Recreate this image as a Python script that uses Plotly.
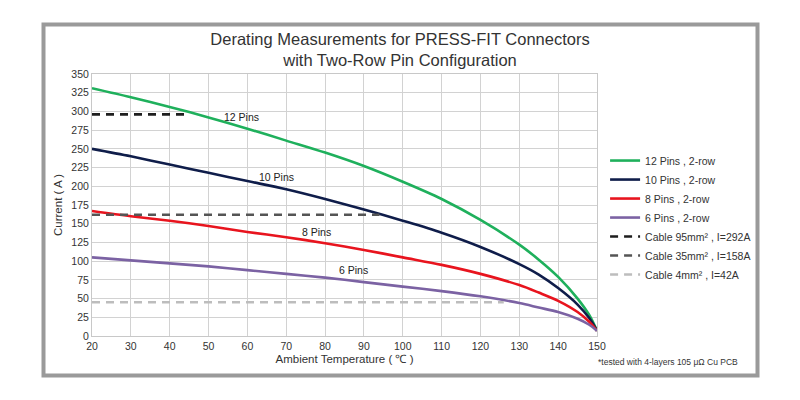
import plotly.graph_objects as go

# ambient temperature (C) and derated current (A)
temps = [20, 30, 40, 50, 60, 70, 80, 90, 100, 110, 120, 130, 135, 140, 145, 148, 150]
pins12 = [331, 319, 306, 292, 277, 261, 245, 227, 206, 183, 155, 122, 102, 79, 50, 28, 7]
pins10 = [250, 240, 229, 218, 207, 196, 183, 169, 154, 138, 119, 96, 82, 64, 42, 24, 7]
pins8 = [167, 160, 154, 147, 139, 132, 124, 115, 105, 95, 83, 68, 58, 47, 32, 19, 7]
pins6 = [105, 101, 97, 93, 88, 83, 78, 72, 66, 60, 53, 44, 38, 32, 23, 15, 7]

curve_names = ["12 Pins , 2-row", "10 Pins , 2-row", "8 Pins , 2-row", "6 Pins , 2-row"]
curve_colors = ["#1fb05c", "#0f1d4a", "#e8141e", "#7b62a3"]

# cable reference lines: start temp, end temp, current
cable_names = ["Cable 95mm² , I=292A", "Cable 35mm² , I=158A", "Cable 4mm² , I=42A"]
cable_x = [[20, 44.5], [20, 94], [20, 126]]
cable_y = [[296, 296], [162, 162], [45, 45]]
cable_colors = ["#1e1e1e", "#555555", "#bdbdbd"]

label_text = ["12 Pins", "10 Pins", "8 Pins", "6 Pins"]
label_x = [58.4, 67.4, 77.7, 87.4]
label_y = [292, 213, 139, 88]

font = "Liberation Sans, Arial, sans-serif"

fig = go.Figure()
for ys, name, col in zip([pins12, pins10, pins8, pins6], curve_names, curve_colors):
    fig.add_trace(go.Scatter(x=temps, y=ys, name=name, mode="lines",
                             line=dict(color=col, width=2.6, shape="spline", smoothing=0.9)))
for xs, ys, name, col in zip(cable_x, cable_y, cable_names, cable_colors):
    fig.add_trace(go.Scatter(x=xs, y=ys, name=name, mode="lines",
                             line=dict(color=col, width=2.6, dash="8px,6px")))

for t, x, y in zip(label_text, label_x, label_y):
    fig.add_annotation(x=x, y=y, text=t, showarrow=False,
                       font=dict(size=10.5, color="#222222"))

fig.add_annotation(xref="paper", yref="paper", x=(668 - 92) / 505, y=(336 - 362) / 262,
                   xanchor="center", yanchor="middle",
                   text="*tested with 4-layers 105 μΩ Cu PCB", showarrow=False,
                   font=dict(size=8.5, color="#333333"))

# grey outer frame
fig.add_shape(type="rect", xref="paper", yref="paper", layer="below",
              x0=(43.5 - 92) / 505, x1=(757.5 - 92) / 505,
              y0=(336 - 375.5) / 262, y1=(336 - 24.5) / 262,
              line=dict(color="#9a9a9a", width=4))

fig.update_layout(
    width=800, height=400,
    margin=dict(l=84, r=211, t=66, b=72, autoexpand=False),
    paper_bgcolor="white", plot_bgcolor="white",
    font=dict(family=font, color="#333333"),
    title=dict(text="Derating Measurements for PRESS-FIT Connectors<br>with Two-Row Pin Configuration",
               x=0.49, xanchor="center", y=0.908, yanchor="top", automargin=False,
               font=dict(size=16.5, color="#333333")),
    legend=dict(x=1.016, xanchor="left", y=0.725, yanchor="top",
                font=dict(size=10.5, color="#333333"), bgcolor="rgba(0,0,0,0)",
                tracegroupgap=0),
    xaxis=dict(range=[20, 150], dtick=10, showgrid=True, gridcolor="#d2d2d2",
               showline=True, linecolor="#c8c8c8", mirror=True, zeroline=False,
               automargin=False,
               tickfont=dict(size=10.5, color="#333333"),
               title=dict(text="Ambient Temperature ( ℃ )", standoff=4,
                          font=dict(size=11.5, color="#333333"))),
    yaxis=dict(range=[0, 350], dtick=25, showgrid=True, gridcolor="#d2d2d2",
               showline=True, linecolor="#c8c8c8", mirror=True, zeroline=False,
               automargin=False,
               tickfont=dict(size=10.5, color="#333333"),
               title=dict(text="Current ( A )", standoff=6,
                          font=dict(size=11.5, color="#333333"))),
)

fig.write_html("out.html")
